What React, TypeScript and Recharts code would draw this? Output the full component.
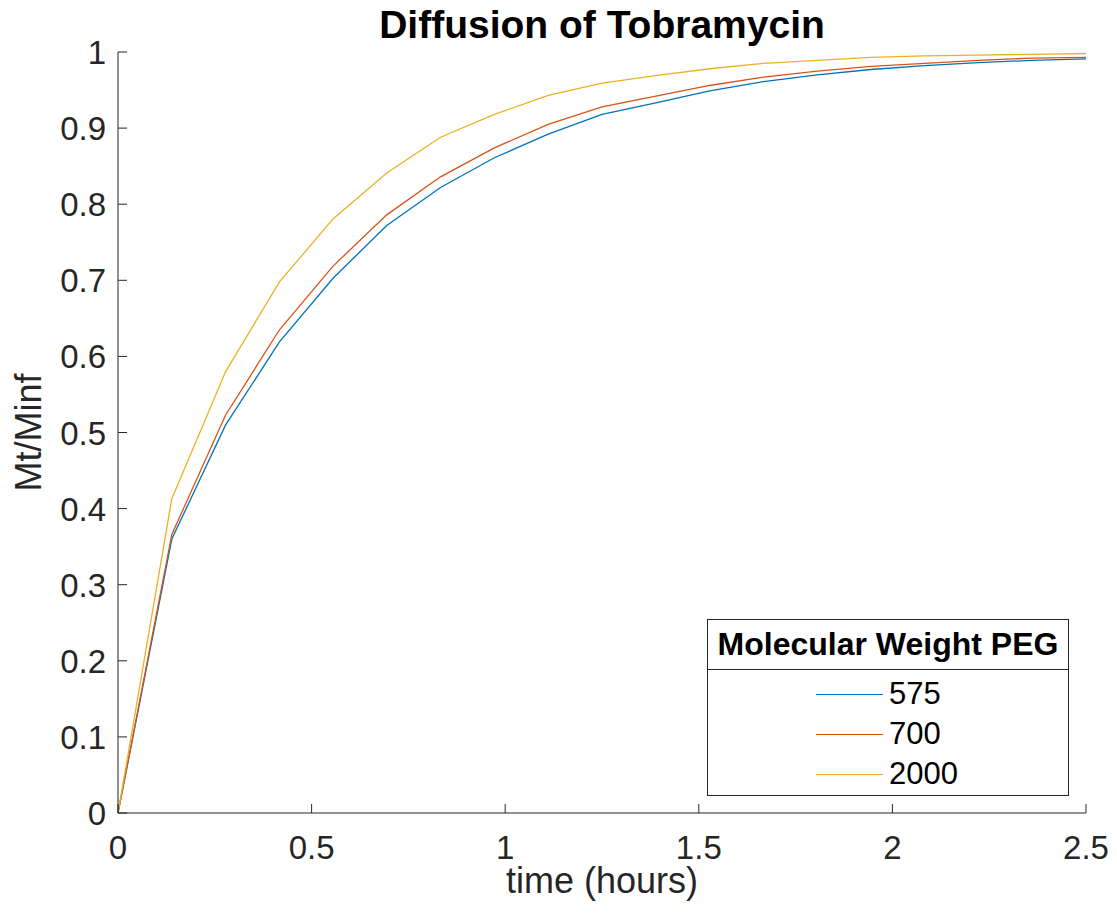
import { LineChart, Line, XAxis, YAxis, Legend } from "recharts";

// time axis (hours)
const timeHours = [
  0, 0.139, 0.278, 0.417, 0.556, 0.694, 0.833, 0.972, 1.111, 1.25, 1.389,
  1.528, 1.667, 1.806, 1.944, 2.083, 2.222, 2.361, 2.5,
];

// Mt/Minf for each PEG molecular weight
const peg575 = [
  0, 0.36, 0.51, 0.619, 0.703, 0.772, 0.822, 0.861, 0.892, 0.918, 0.933,
  0.949, 0.961, 0.97, 0.977, 0.982, 0.986, 0.989, 0.991,
];
const peg700 = [
  0, 0.366, 0.523, 0.635, 0.719, 0.786, 0.836, 0.874, 0.905, 0.928, 0.942,
  0.956, 0.967, 0.975, 0.981, 0.985, 0.989, 0.992, 0.993,
];
const peg2000 = [
  0, 0.413, 0.58, 0.698, 0.781, 0.841, 0.888, 0.918, 0.943, 0.959, 0.969,
  0.978, 0.985, 0.989, 0.993, 0.995, 0.996, 0.997, 0.998,
];

const seriesNames = ["575", "700", "2000"];
const xTicks = [0, 0.5, 1, 1.5, 2, 2.5];
const yTicks = [0, 0.1, 0.2, 0.3, 0.4, 0.5, 0.6, 0.7, 0.8, 0.9, 1];

const FONT = '"Liberation Sans", Arial, Helvetica, sans-serif';
const AXIS = "#262626";

const data = timeHours.map((t, i) => ({
  t,
  p575: peg575[i],
  p700: peg700[i],
  p2000: peg2000[i],
}));

function XTick({ x, y, payload }: any) {
  return (
    <g>
      <line x1={x} x2={x} y1={y} y2={y - 9} stroke={AXIS} strokeWidth={1} />
      <text
        x={x}
        y={y + 46}
        textAnchor="middle"
        fill={AXIS}
        fontSize={33}
        fontFamily={FONT}
      >
        {payload.value}
      </text>
    </g>
  );
}

function YTick({ x, y, payload }: any) {
  return (
    <g>
      <line x1={x} x2={x + 9} y1={y} y2={y} stroke={AXIS} strokeWidth={1} />
      <text
        x={x - 12}
        y={y + 12}
        textAnchor="end"
        fill={AXIS}
        fontSize={33}
        fontFamily={FONT}
      >
        {payload.value}
      </text>
    </g>
  );
}

function LegendBox({ payload }: any) {
  const items = [...(payload || [])].sort(
    (a: any, b: any) =>
      seriesNames.indexOf(String(a.value)) -
      seriesNames.indexOf(String(b.value))
  );
  return (
    <div
      style={{
        width: 362,
        height: 177,
        boxSizing: "border-box",
        border: `1px solid ${AXIS}`,
        background: "#fff",
        fontFamily: FONT,
      }}
    >
      <div
        style={{
          height: 49,
          borderBottom: `1px solid ${AXIS}`,
          fontWeight: "bold",
          fontSize: 32,
          lineHeight: "49px",
          textAlign: "center",
          color: "#000",
        }}
      >
        Molecular Weight PEG
      </div>
      <div style={{ paddingTop: 4 }}>
        {items.map((entry: any) => (
          <div
            key={entry.value}
            style={{ height: 40, display: "flex", alignItems: "center" }}
          >
            <div
              style={{
                marginLeft: 108,
                width: 67,
                height: 0,
                borderTop: `1px solid ${entry.color}`,
              }}
            />
            <span
              style={{
                marginLeft: 6,
                fontSize: 31,
                color: "#000",
                lineHeight: "40px",
              }}
            >
              {entry.value}
            </span>
          </div>
        ))}
      </div>
    </div>
  );
}

export default function App() {
  return (
    <div
      style={{
        position: "absolute",
        left: 0,
        top: 0,
        width: 1117,
        height: 917,
        background: "#fff",
        fontFamily: FONT,
      }}
    >
      <div
        style={{
          position: "absolute",
          left: 118,
          width: 968,
          top: 0,
          textAlign: "center",
          fontWeight: "bold",
          fontSize: 39,
          lineHeight: "50px",
          color: "#000",
        }}
      >
        Diffusion of Tobramycin
      </div>
      <LineChart
        width={1117}
        height={917}
        data={data}
        margin={{ top: 52, right: 31, bottom: 0, left: 0 }}
      >
        <XAxis
          dataKey="t"
          type="number"
          domain={[0, 2.5]}
          ticks={xTicks}
          height={104}
          tickSize={0}
          tickMargin={0}
          tickLine={false}
          axisLine={{ stroke: AXIS, strokeWidth: 1 }}
          tick={<XTick />}
          interval={0}
          label={{
            value: "time (hours)",
            position: "insideBottom",
            offset: 24,
            fontSize: 36,
            fill: AXIS,
            fontFamily: FONT,
          }}
        />
        <YAxis
          type="number"
          domain={[0, 1]}
          ticks={yTicks}
          width={118}
          tickSize={0}
          tickMargin={0}
          tickLine={false}
          axisLine={{ stroke: AXIS, strokeWidth: 1 }}
          tick={<YTick />}
          interval={0}
          label={{
            value: "Mt/Minf",
            angle: -90,
            position: "insideLeft",
            offset: 28,
            fontSize: 36,
            fill: AXIS,
            fontFamily: FONT,
            style: { textAnchor: "middle" },
          }}
        />
        <Legend
          layout="vertical"
          align="center"
          verticalAlign="middle"
          wrapperStyle={{ left: 707, top: 619, width: 362 }}
          content={<LegendBox />}
        />
        <Line
          dataKey="p575"
          name="575"
          type="linear"
          stroke="#0072BD"
          strokeWidth={1.3}
          dot={false}
          isAnimationActive={false}
        />
        <Line
          dataKey="p700"
          name="700"
          type="linear"
          stroke="#D95319"
          strokeWidth={1.3}
          dot={false}
          isAnimationActive={false}
        />
        <Line
          dataKey="p2000"
          name="2000"
          type="linear"
          stroke="#EDB120"
          strokeWidth={1.3}
          dot={false}
          isAnimationActive={false}
        />
      </LineChart>
    </div>
  );
}
